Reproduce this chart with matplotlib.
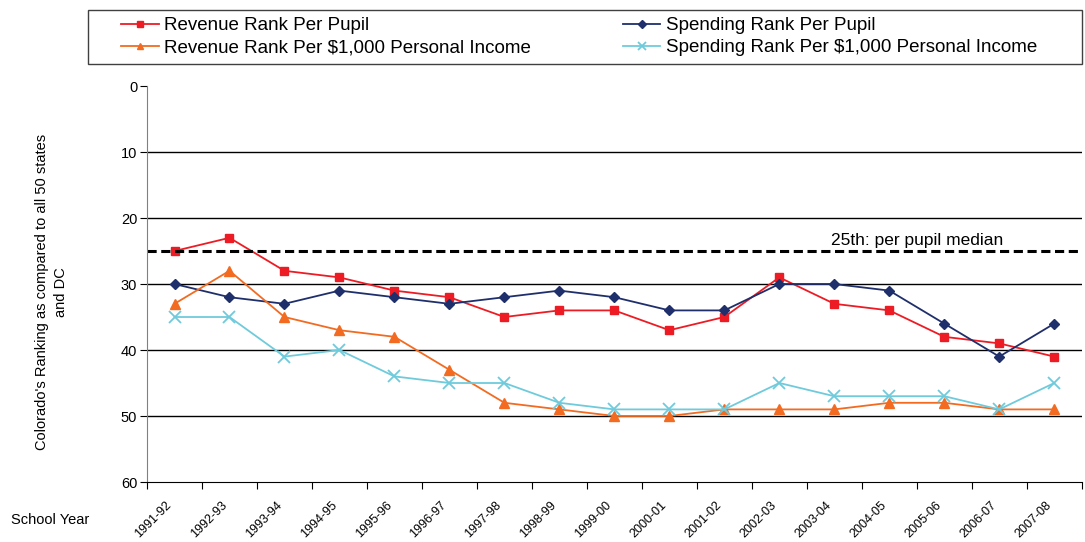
import matplotlib
matplotlib.use('Agg')
import matplotlib.pyplot as plt
from matplotlib.patches import Rectangle

plt.rcParams['font.family'] = ['Liberation Sans', 'DejaVu Sans']

years = ['1991-92', '1992-93', '1993-94', '1994-95', '1995-96', '1996-97', '1997-98',
         '1998-99', '1999-00', '2000-01', '2001-02', '2002-03', '2003-04', '2004-05',
         '2005-06', '2006-07', '2007-08']
rev_pupil = [25, 23, 28, 29, 31, 32, 35, 34, 34, 37, 35, 29, 33, 34, 38, 39, 41]
spend_pupil = [30, 32, 33, 31, 32, 33, 32, 31, 32, 34, 34, 30, 30, 31, 36, 41, 36]
rev_income = [33, 28, 35, 37, 38, 43, 48, 49, 50, 50, 49, 49, 49, 48, 48, 49, 49]
spend_income = [35, 35, 41, 40, 44, 45, 45, 48, 49, 49, 49, 45, 47, 47, 47, 49, 45]
median_rank = 25

fig = plt.figure(figsize=(10.85, 5.42), dpi=100)
ax = fig.add_axes([0.1355, 0.1107, 0.8615, 0.7306])

x = list(range(len(years)))
l1, = ax.plot(x, rev_pupil, color='#ed1c24', marker='s', markersize=6, lw=1.3,
              label='Revenue Rank Per Pupil')
l2, = ax.plot(x, spend_pupil, color='#1f2f6b', marker='D', markersize=5.5, lw=1.3,
              label='Spending Rank Per Pupil')
l3, = ax.plot(x, rev_income, color='#f26b21', marker='^', markersize=7, lw=1.3,
              label='Revenue Rank Per $1,000 Personal Income')
l4, = ax.plot(x, spend_income, color='#6fcbdc', marker='x', markersize=8, mew=1.3, lw=1.3,
              label='Spending Rank Per $1,000 Personal Income')

# median reference line
ax.axhline(median_rank, color='black', ls=(0, (3, 1.5)), lw=2.2)
ax.text(13.5, median_rank - 0.9, '25th: per pupil median', fontsize=12.5, ha='center', va='baseline')

ax.set_xlim(-0.5, len(years) - 0.5)
ax.set_ylim(60, 0)
ax.set_yticks(range(0, 61, 10))
for g in range(10, 60, 10):
    ax.axhline(g, color='black', lw=1, zorder=0)

# ticks between categories; rotated labels sit just left of each category
ax.set_xticks([i - 0.5 for i in x] + [len(years) - 0.5])
ax.set_xticklabels([])
ax.set_xticks([i - 0.16 for i in x], minor=True)
ax.set_xticklabels(years, minor=True, rotation=45, ha='right', va='top',
                   rotation_mode='anchor', fontsize=9)
ax.tick_params(axis='x', which='minor', length=0, pad=12.5)
ax.tick_params(axis='x', which='major', length=5, direction='out', color='black')
ax.tick_params(axis='y', length=5, direction='out', labelsize=10.5, pad=2)

for s in ['top', 'right']:
    ax.spines[s].set_visible(False)
ax.spines['left'].set_color('#808080')
ax.spines['bottom'].set_color('black')

ax.set_ylabel("Colorado's Ranking as compared to all 50 states\nand DC", fontsize=10.5,
              linespacing=1.45)
ax.yaxis.set_label_coords(-0.0845, 0.48)
fig.text(0.046, 0.041, 'School Year', fontsize=10.5, ha='center', va='center')

# legend with its own frame
fig.patches.append(Rectangle((88 / 1085, 1 - 64 / 542), 994 / 1085, 54 / 542,
                             transform=fig.transFigure, fill=False,
                             edgecolor='#404040', lw=1.0))
leg = fig.legend(handles=[l1, l3, l2, l4], ncol=2, loc='upper left',
                 bbox_to_anchor=(121 / 1085, 1 - 17 / 542), borderaxespad=0,
                 fontsize=13.5, frameon=False, borderpad=0,
                 handlelength=2.0, handletextpad=0.3, labelspacing=0.28,
                 columnspacing=4.9, markerscale=0.7)

fig.savefig('out.png', dpi=100)
